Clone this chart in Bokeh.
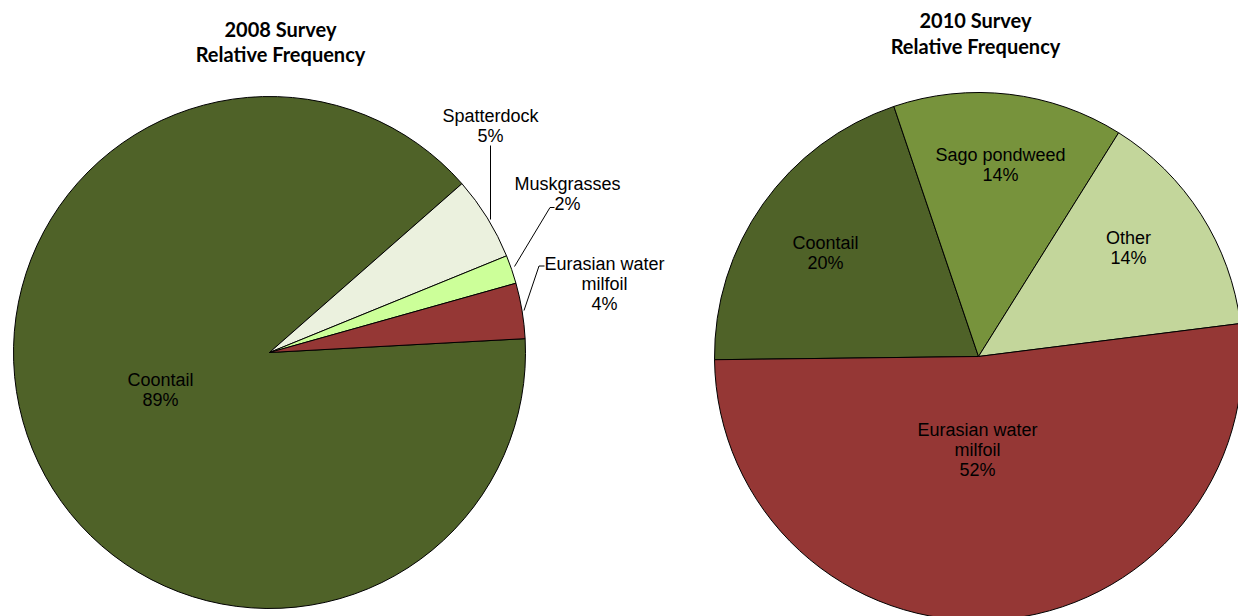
import math
from bokeh.plotting import figure
from bokeh.models import Range1d
from bokeh.core.properties import value
from bokeh.embed import file_html
from bokeh.resources import INLINE

# ---------------- data ----------------
names_2008 = ["Coontail", "Spatterdock", "Muskgrasses", "Eurasian water\nmilfoil"]
values_2008 = [89.4, 5.3, 1.8, 3.5]
colors_2008 = ["#4F6228", "#EBF1DE", "#CCFF99", "#953735"]

names_2010 = ["Coontail", "Sago pondweed", "Other", "Eurasian water\nmilfoil"]
values_2010 = [20.0, 14.1, 14.1, 51.8]
colors_2010 = ["#4F6228", "#77933C", "#C3D69B", "#953735"]

titles = ["2008 Survey\nRelative Frequency", "2010 Survey\nRelative Frequency"]

# ---------------- layout (pixel space, y measured from top) ----------------
W, H = 1238, 616
pies = [
    dict(cx=269, cy=352, r=256, start=3.1, names=names_2008, vals=values_2008,
         cols=colors_2008,
         lab=[(160, 379), (490, 115), (567, 183), (604, 263)],
         title_xy=(280, 28)),
    dict(cx=978, cy=356, r=264, start=180.7, names=names_2010, vals=values_2010,
         cols=colors_2010,
         lab=[(825, 242), (1000, 154), (1128, 237), (977, 429)],
         title_xy=(975, 19.5)),
]
leaders_2008 = [
    [(490, 145), (490, 219)],
    [(554, 207), (549.5, 207), (514, 266)],
    [(544, 265.5), (538.5, 265.5), (523.5, 310)],
]

p = figure(width=W, height=H, x_range=Range1d(0, W), y_range=Range1d(0, H),
           output_backend="svg", toolbar_location=None, min_border=0)
p.axis.visible = False
p.grid.visible = False
p.outline_line_color = None
p.background_fill_color = "white"
p.border_fill_color = "white"

LABEL_FONT = value("Liberation Sans")
TITLE_FONT = value("Lato")

for k, pie in enumerate(pies):
    total = sum(pie["vals"])
    a0 = math.radians(pie["start"])
    starts, ends = [], []
    cum = 0.0
    for v in pie["vals"]:
        s = a0 - 2 * math.pi * (cum + v) / total
        e = a0 - 2 * math.pi * cum / total
        starts.append(s)
        ends.append(e)
        cum += v
    n = len(pie["vals"])
    p.wedge(x=[pie["cx"]] * n, y=[H - pie["cy"]] * n, radius=pie["r"],
            start_angle=starts, end_angle=ends, fill_color=pie["cols"],
            line_color="black", line_width=1)

    # labels
    xs, ys, ts = [], [], []
    for (lx, ly), name, v in zip(pie["lab"], pie["names"], pie["vals"]):
        pct = int(round(100 * v / total))
        lines = name.split("\n") + [f"{pct}%"]
        for i, t in enumerate(lines):
            xs.append(lx)
            ys.append(H - (ly + 20 * i))
            ts.append(t)
    p.text(x=xs, y=ys, text=ts, text_font=LABEL_FONT, text_font_size="18px",
           text_align="center", text_baseline="middle", text_color="black")

    # title
    tx, ty = pie["title_xy"]
    tl = titles[k].split("\n")
    p.text(x=[tx] * len(tl), y=[H - (ty + 25.5 * i) for i in range(len(tl))], text=tl,
           text_font=TITLE_FONT, text_font_style="bold", text_font_size="20px",
           text_align="center", text_baseline="middle", text_color="black")

for seg in leaders_2008:
    p.line(x=[a for a, b in seg], y=[H - b for a, b in seg], line_color="black", line_width=1)

open("out.html", "w").write(file_html(p, INLINE))
